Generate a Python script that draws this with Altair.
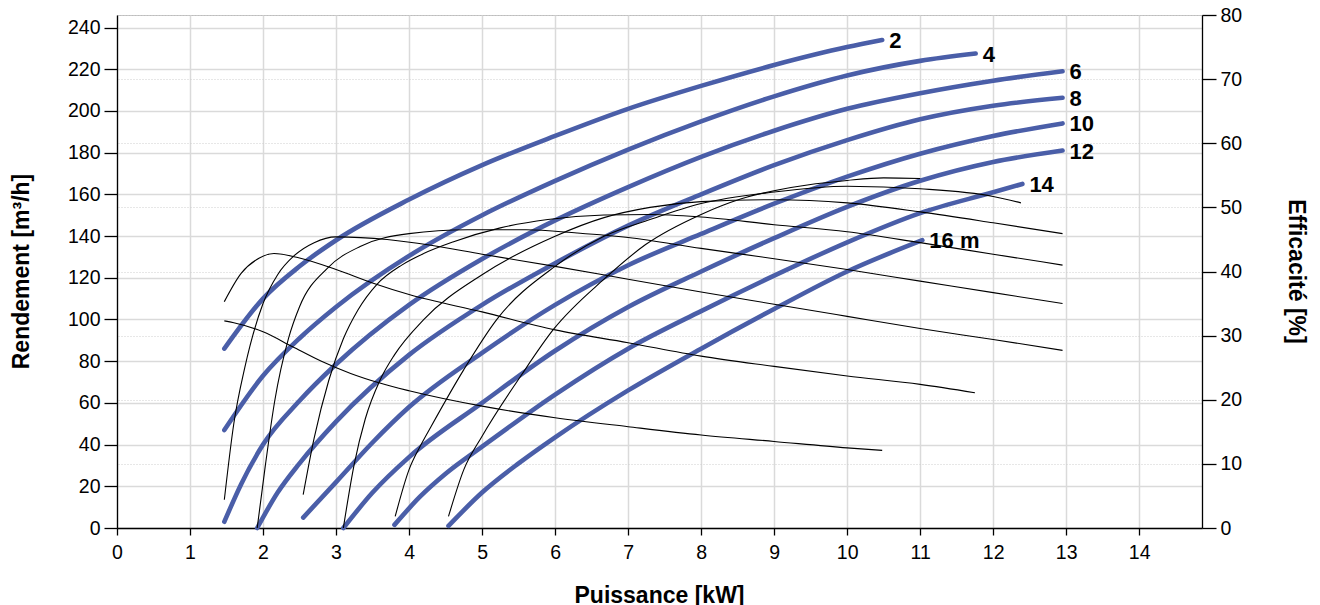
import altair as alt
import pandas as pd

# ---------------- data ----------------
HEAD_LABELS = ["2", "4", "6", "8", "10", "12", "14", "16 m"]

# Flow rate [m3/h] versus power [kW], one curve per head
Q2_P = [1.47, 2.0, 2.5, 3.0, 4.0, 5.0, 6.0, 7.0, 8.0, 9.0, 10.0, 10.48]
Q2_Q = [86, 110, 125.5, 138, 157.5, 174, 188, 201, 212, 222, 230.6, 234]

Q4_P = [1.47, 2.0, 2.5, 3.0, 4.0, 5.0, 6.0, 7.0, 8.0, 9.0, 10.0, 11.0, 11.76]
Q4_Q = [47, 73, 91, 106, 130.5, 150, 166.5, 181.5, 195, 207, 217, 224, 227.5]

Q6_P = [1.47, 1.7, 2.0, 2.5, 3.0, 4.0, 5.0, 6.0, 7.0, 8.0, 9.0, 10.0, 11.0, 12.0, 12.95]
Q6_Q = [3, 21, 40, 61, 78.5, 107, 129, 147.5, 163.5, 178, 190.5, 201, 208.5, 214.5, 219]

Q8_P = [1.92, 2.2, 2.5, 3.0, 4.0, 5.0, 6.0, 7.0, 8.0, 9.0, 10.0, 11.0, 12.0, 12.95]
Q8_Q = [0, 17, 31, 51, 83, 107, 127, 145, 160, 174, 186, 196, 202.5, 206.3]

Q10_P = [2.55, 3.0, 3.5, 4.0, 5.0, 6.0, 7.0, 8.0, 9.0, 10.0, 11.0, 12.0, 12.95]
Q10_Q = [5, 22, 41, 58, 84, 107, 126, 141, 155.5, 168.5, 179.5, 188, 194]

Q12_P = [3.1, 3.5, 4.0, 5.0, 6.0, 7.0, 8.0, 9.0, 10.0, 11.0, 12.0, 12.95]
Q12_Q = [0, 17, 34, 60, 85, 106, 123, 139, 154, 166.5, 175.5, 181]

Q14_P = [3.8, 4.15, 4.5, 5.0, 6.0, 7.0, 8.0, 9.0, 10.0, 11.0, 12.0, 12.4]
Q14_Q = [1.5, 15, 26, 39, 64, 86, 104, 121, 137, 151, 161, 165]

Q16_P = [4.54, 5.0, 5.5, 6.0, 7.0, 8.0, 9.0, 10.0, 11.03]
Q16_Q = [1, 17, 31, 43.5, 66, 86, 105, 123, 138]

# Efficiency [%] versus power [kW], one curve per head
E2_P = [1.47, 1.6, 2.0, 2.4, 2.8, 3.2, 3.6, 4.0, 5.0, 6.0, 7.0, 8.0, 9.0, 10.0, 10.48]
E2_E = [32.3, 32.0, 30.6, 28.3, 26.0, 24.1, 22.6, 21.4, 19.0, 17.2, 15.8, 14.5, 13.5, 12.5, 12.1]

E4_P = [1.47, 1.7, 1.95, 2.15, 2.5, 3.0, 3.5, 4.0, 5.0, 6.0, 7.0, 8.0, 9.0, 10.0, 11.0, 11.75]
E4_E = [35.3, 39.7, 42.1, 42.8, 42.1, 40.3, 38.2, 36.4, 33.7, 30.9, 28.9, 26.8, 25.2, 23.7, 22.4, 21.1]

E6_P = [1.47, 1.6, 1.75, 2.0, 2.2, 2.43, 2.7, 3.0, 3.7, 4.3, 5.0, 6.0, 7.0, 8.0, 9.0, 10.0, 11.0, 12.0, 12.95]
E6_E = [4.4, 16.3, 25.0, 35.0, 39.5, 42.5, 44.5, 45.4, 45.0, 44.1, 42.7, 40.8, 38.8, 36.8, 34.9, 33.0, 31.1, 29.4, 27.7]

E8_P = [1.92, 2.03, 2.16, 2.35, 2.5, 2.88, 3.33, 4.0, 4.8, 5.6, 6.3, 7.0, 8.0, 9.0, 10.0, 11.0, 12.0, 12.95]
E8_E = [0, 9.6, 19.8, 29.6, 34.5, 40.5, 43.9, 45.9, 46.5, 46.5, 46.0, 45.3, 43.6, 42.0, 40.3, 38.5, 36.7, 35.0]

E10_P = [2.55, 2.7, 2.9, 3.1, 3.3, 3.56, 3.9, 4.2, 4.6, 5.25, 5.9, 6.67, 7.3, 8.0, 9.0, 10.0, 11.0, 12.0, 12.95]
E10_E = [5.2, 14.0, 23.0, 29.5, 34.0, 38.0, 41.0, 42.8, 44.6, 46.8, 48.1, 48.8, 48.9, 48.5, 47.3, 46.2, 44.5, 42.7, 41.0]

E12_P = [3.1, 3.25, 3.4, 3.6, 3.8, 4.2, 5.0, 6.0, 6.67, 7.3, 8.0, 9.0, 10.0, 11.0, 12.0, 12.95]
E12_E = [0, 10.0, 17.0, 23.0, 27.0, 32.5, 39.5, 45.5, 48.4, 50.0, 50.9, 51.2, 50.7, 49.3, 47.6, 45.9]

E14_P = [3.81, 4.0, 4.15, 4.3, 4.75, 5.2, 6.0, 6.67, 7.3, 8.0, 9.0, 10.0, 11.0, 12.0, 12.38]
E14_E = [1.8, 9.1, 12.7, 15.8, 24.7, 32.5, 40.8, 45.5, 48.1, 50.6, 52.4, 53.3, 52.9, 51.7, 50.7]

E16_P = [4.54, 4.75, 5.0, 5.53, 5.98, 6.67, 7.24, 8.0, 8.54, 9.23, 10.0, 10.5, 11.0]
E16_E = [1.8, 9.1, 14.3, 23.7, 31.0, 38.8, 44.2, 48.9, 51.3, 53.1, 54.2, 54.6, 54.5]

X_TICKS = list(range(0, 15))
YL_TICKS = list(range(0, 241, 20))
YR_TICKS = list(range(0, 81, 10))

# ---------------- tables ----------------
flow_sets = [(Q2_P, Q2_Q), (Q4_P, Q4_Q), (Q6_P, Q6_Q), (Q8_P, Q8_Q),
             (Q10_P, Q10_Q), (Q12_P, Q12_Q), (Q14_P, Q14_Q), (Q16_P, Q16_Q)]
eff_sets = [(E2_P, E2_E), (E4_P, E4_E), (E6_P, E6_E), (E8_P, E8_E),
            (E10_P, E10_E), (E12_P, E12_E), (E14_P, E14_E), (E16_P, E16_E)]

flow_rows, eff_rows, lab_rows = [], [], []
for lbl, (ps, qs) in zip(HEAD_LABELS, flow_sets):
    for p, q in zip(ps, qs):
        flow_rows.append({"head": lbl, "p": p, "q": q})
    lab_rows.append({"label": lbl, "p": ps[-1], "q": qs[-1]})
for lbl, (ps, es) in zip(HEAD_LABELS, eff_sets):
    for p, e in zip(ps, es):
        eff_rows.append({"head": lbl, "p": p, "e": e})

df_flow = pd.DataFrame(flow_rows)
df_eff = pd.DataFrame(eff_rows)
df_lab = pd.DataFrame(lab_rows)

# ---------------- styling ----------------
BLUE = "#4a5ea8"
FONT = "Liberation Sans"
GRID = "#dadada"

x_scale = alt.Scale(domain=[0, 14.86], nice=False, zero=False)
yl_scale = alt.Scale(domain=[0, 246], nice=False, zero=False)
yr_scale = alt.Scale(domain=[0, 80], nice=False, zero=False)

x_axis = alt.Axis(
    values=X_TICKS, format="d", title="Puissance [kW]", labelFlush=False, labelOverlap=False,
    labelFont=FONT, labelFontSize=19.5, labelColor="black", labelPadding=8,
    tickSize=7, tickColor="black", tickWidth=1.3, domainColor="black", domainWidth=1.3,
    grid=True, gridColor=GRID, gridWidth=1.5,
    titleFont=FONT, titleFontSize=23, titleFontWeight="bold", titleColor="black",
    titleX=542, titleY=74, titleAlign="center", titleBaseline="alphabetic",
)
yl_axis = alt.Axis(
    values=YL_TICKS, format="d", orient="left", title="Rendement [m³/h]", labelOverlap=False,
    labelFont=FONT, labelFontSize=19.5, labelColor="black", labelPadding=4,
    tickSize=13, tickColor="black", tickWidth=1.3, domainColor="black", domainWidth=1.3,
    grid=True, gridColor=GRID, gridWidth=1.5,
    titleFont=FONT, titleFontSize=23, titleFontWeight="bold", titleColor="black",
    titleAngle=270, titleX=-88.5, titleY=256, titleAlign="center", titleBaseline="alphabetic",
)
yr_axis = alt.Axis(
    values=YR_TICKS, format="d", orient="right", title="Efficacité [%]", labelOverlap=False,
    labelFont=FONT, labelFontSize=19.5, labelColor="black", labelPadding=4,
    tickSize=14, tickColor="black", tickWidth=1.3, domainColor="black", domainWidth=1.3,
    grid=True, gridColor="#cfcfcf", gridWidth=1, gridDash=[1, 2],
    titleFont=FONT, titleFontSize=23, titleFontWeight="bold", titleColor="black",
    titleAngle=90, titleX=86.5, titleY=256, titleAlign="center", titleBaseline="alphabetic",
)

x_enc = alt.X("p:Q", scale=x_scale, axis=x_axis)

blue = alt.Chart(df_flow).mark_line(
    color=BLUE, strokeWidth=4.6, strokeCap="round", strokeJoin="round", interpolate="monotone"
).encode(
    x=x_enc,
    y=alt.Y("q:Q", scale=yl_scale, axis=yl_axis),
    detail="head:N",
)

eff = alt.Chart(df_eff).mark_line(
    color="black", strokeWidth=1.1, interpolate="monotone"
).encode(
    x=x_enc,
    y=alt.Y("e:Q", scale=yr_scale, axis=yr_axis),
    detail="head:N",
)

labels = alt.Chart(df_lab).mark_text(
    align="left", baseline="middle", dx=7, dy=1,
    font=FONT, fontSize=22, fontWeight="bold", color="black"
).encode(
    x=x_enc,
    y=alt.Y("q:Q", scale=yl_scale, axis=None),
    text="label:N",
)

chart = alt.layer(blue, eff, labels).resolve_scale(y="independent").properties(
    width=1085,
    height=513,
    padding={"left": 109, "top": 7, "right": 110, "bottom": 85},
    autosize=alt.AutoSizeParams(type="none"),
    background="white",
).configure_view(stroke="#bdbdbd", strokeWidth=1)

chart.save("out.html", embed_options={"renderer": "svg", "actions": False})
